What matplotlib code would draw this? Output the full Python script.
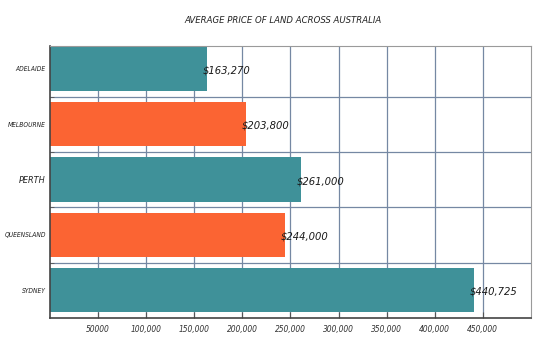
import numpy as np
import matplotlib.pyplot as plt
from matplotlib.ticker import FixedLocator

## Data
cities = ['ADELAIDE', 'MELBOURNE', 'PERTH', 'QUEENSLAND', 'SYDNEY']
prices = [163270, 203800, 261000, 244000, 440725]
price_labels = ['$163,270', '$203,800', '$261,000', '$244,000', '$440,725']
xtick_vals = [50000, 100000, 150000, 200000, 250000, 300000, 350000, 400000, 450000]
xtick_labels = ['50000', '100,000', '150,000', '200,000', '250,000',
                '300,000', '350,000', '400,000', '450,000']

teal = '#3f9199'
orange = '#fb6433'
colors = [teal, orange, teal, orange, teal]

plt.rcParams['font.family'] = ['DejaVu Sans']
plt.rcParams['font.style'] = 'italic'
plt.rcParams['font.stretch'] = 'condensed'

fig = plt.figure(figsize=(5.49, 3.47), dpi=100)
ax = fig.add_axes([0.091, 0.084, 0.876, 0.783])

y = np.arange(len(cities))
ax.barh(y, prices, height=0.8, color=colors, zorder=2)

## value labels just past the end of each bar
for yi, p, lab in zip(y, prices, price_labels):
    ax.text(p - 4000, yi + 0.03, lab, va='center', ha='left', fontsize=8,
            color='#1a1a1a', zorder=3)

ax.set_xlim(0, 500000)
ax.set_ylim(4.5, -0.41)

ax.set_xticks(xtick_vals)
ax.set_xticklabels(xtick_labels, fontsize=6, color='#333333')
ax.set_yticks(y)
ax.set_yticklabels(cities, fontsize=4.8, color='#222222')
for t in ax.get_yticklabels():
    if t.get_text() == 'PERTH':
        t.set_fontsize(6.5)

## grid sits between the bars, like category boundaries
ax.yaxis.set_minor_locator(FixedLocator([0.5, 1.5, 2.5, 3.5]))
ax.grid(axis='x', which='major', color='#7588a3', linewidth=0.9, zorder=0)
ax.grid(axis='y', which='minor', color='#7588a3', linewidth=0.9, zorder=0)
ax.tick_params(axis='y', which='major', length=0, pad=3)
ax.tick_params(axis='y', which='minor', length=3, direction='in', color='#555555')
ax.tick_params(axis='x', length=4, direction='in', color='#555555', pad=5)

for s in ['top', 'right']:
    ax.spines[s].set_color('#9a9a9a')
for s in ['left', 'bottom']:
    ax.spines[s].set_color('#444444')
    ax.spines[s].set_linewidth(1.2)

fig.text(0.515, 0.94, 'AVERAGE PRICE OF LAND ACROSS AUSTRALIA', ha='center',
         va='center', fontsize=6.8, color='#222222')

fig.savefig('out.png', dpi=100)
